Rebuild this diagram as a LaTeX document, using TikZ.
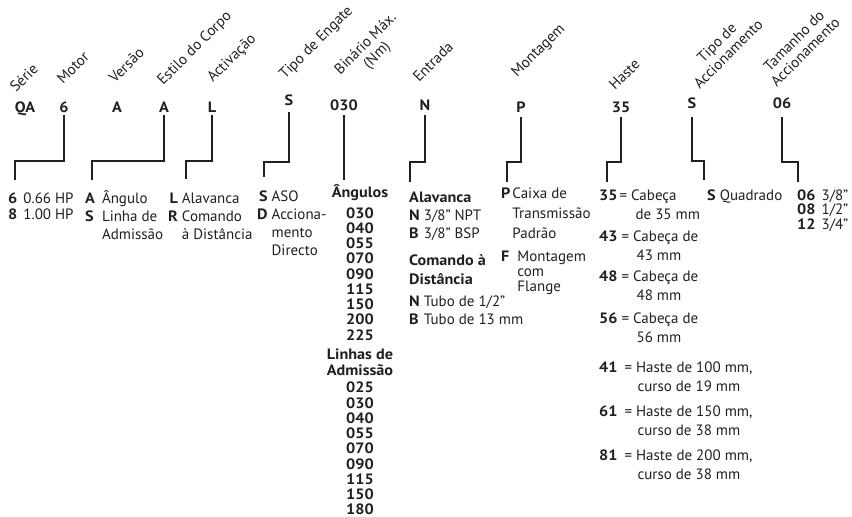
\documentclass[tikz,border=0pt]{standalone}
\usepackage{fontspec}
\setmainfont{PT Sans}[BoldFeatures={FakeStretch=1.08}]
\usetikzlibrary{positioning}
\definecolor{ink}{HTML}{231F20}
\newcommand\setsp[1]{\fontsize{15}{#1}\selectfont}
\tikzset{
  code/.style={font=\setsp{18}\bfseries, inner sep=1pt, anchor=base},
  head/.style={font=\setsp{16}, rotate=45, anchor=base west, inner sep=0pt},
  desc/.style={font=\setsp{18}, anchor=base west, inner sep=0pt},
  link/.style={line width=1.4pt, shorten <=2pt},
}
\begin{document}
\begin{tikzpicture}[x=1pt, y=-1pt, color=ink]
  \useasboundingbox (0,0) rectangle (852,517);
  % rotated headings
  \node[head] (hserie) at (16,93) {Série};
  \node[head] (hmotor) at (63,85) {Motor};
  \node[head] (hversao) at (115,84) {Versão};
  \node[head] (hcorpo) at (163,86) {Estilo do Corpo};
  \node[head] (hactiv) at (213,83) {Activação};
  \node[head] (hengate) at (285,80) {Tipo de Engate};
  \node[head, align=center, anchor=south west] (hbinario) at (354,89) {Binário Máx.\\(Nm)};
  \node[head] (hentrada) at (419,83) {Entrada};
  \node[head] (hmontagem) at (517,78) {Montagem};
  \node[head] (hhaste) at (615,91) {Haste};
  \node[head, align=center, anchor=south west] (htipo) at (700,90) {Tipo de\\Accionamento};
  \node[head, align=center, anchor=south west] (htamanho) at (777,88) {Tamanho do\\Accionamento};
  % code letters
  \node[code] (cqa) at (25,112) {QA};
  \node[code] (c6) at (64,112) {6};
  \node[code] (cversao) at (117,112) {A};
  \node[code] (ccorpo) at (164,112) {A};
  \node[code] (cactiv) at (212,112) {L};
  \node[code] (cengate) at (289,105) {S};
  \node[code] (cbinario) at (344,110) {030};
  \node[code] (centrada) at (425,110) {N};
  \node[code] (cmontagem) at (521,112) {P};
  \node[code] (chaste) at (621,112) {35};
  \node[code] (ctipo) at (692,108) {S};
  \node[code] (ctamanho) at (782,108) {06};
  % bracket corners
  \coordinate (k6) at (15,161);        \coordinate (e6) at (15,180);
  \coordinate (kcorpo) at (92,161);    \coordinate (ecorpo) at (92,180);
  \coordinate (kactiv) at (186,161);   \coordinate (eactiv) at (186,179);
  \coordinate (kengate) at (264,162);  \coordinate (eengate) at (264,177);
  \coordinate (ebinario) at (344,180);
  \coordinate (kentrada) at (410,162); \coordinate (eentrada) at (410,182);
  \coordinate (kmontagem) at (507,162); \coordinate (emontagem) at (507,182);
  \coordinate (khaste) at (607,162);   \coordinate (ehaste) at (607,182);
  \coordinate (ktipo) at (704,161);    \coordinate (etipo) at (704,180);
  \coordinate (ktamanho) at (798,162); \coordinate (etamanho) at (798,182);
  \draw[link] (c6.south) |- (k6) -- (e6);
  \draw[link] (ccorpo.south) |- (kcorpo) -- (ecorpo);
  \draw[link] (cactiv.south) |- (kactiv) -- (eactiv);
  \draw[link, shorten <=6pt] (cengate.south) |- (kengate) -- (eengate);
  \draw[link, shorten <=4pt] (cbinario.south) -- (ebinario);
  \draw[link, shorten <=4pt] (centrada.south) |- (kentrada) -- (eentrada);
  \draw[link, shorten <=4pt] (cmontagem.south) |- (kmontagem) -- (emontagem);
  \draw[link, shorten <=4pt] (chaste.south) |- (khaste) -- (ehaste);
  \draw[link, shorten <=8pt] (ctipo.south) |- (ktipo) -- (etipo);
  \draw[link, shorten <=8pt] (ctamanho.south) |- (ktamanho) -- (etamanho);
  % option lists
  \node[desc] (dmotor) at (8,203) {\setsp{16}\begin{tabular}[t]{@{}l@{\hspace{6pt}}l@{}}
    \textbf{6} & 0.66 HP\\ \textbf{8} & 1.00 HP\end{tabular}};
  \node[desc] (dcorpo) at (85,203) {\begin{tabular}[t]{@{}l@{\hspace{7pt}}l@{}}
    \textbf{A} & Ângulo\\ \textbf{S} & Linha de\\ & Admissão\end{tabular}};
  \node[desc] (dactiv) at (168,203) {\begin{tabular}[t]{@{}r@{\hspace{4pt}}l@{}}
    \textbf{L} & Alavanca\\ \textbf{R} & Comando\\ & à Distância\end{tabular}};
  \node[desc] (dengate) at (257,201) {\begin{tabular}[t]{@{}r@{\hspace{4pt}}l@{}}
    \textbf{S} & ASO\\ \textbf{D} & Acciona-\\ & mento\\ & Directo\end{tabular}};
  \node[desc, anchor=base] (dbinario) at (360,197) {\setsp{15.1}\bfseries\begin{tabular}[t]{@{}c@{}}
    Ângulos\\[6pt] 030\\ 040\\ 055\\ 070\\ 090\\ 115\\ 150\\ 200\\ 225\\[4.5pt]
    Linhas de\\[0.5pt] Admissão\\[2pt] 025\\ 030\\ 040\\ 055\\ 070\\ 090\\ 115\\ 150\\ 180\end{tabular}};
  \node[desc] (dentrada) at (409,202) {\begin{tabular}[t]{@{}l@{\hspace{4pt}}l@{}}
    \multicolumn{2}{@{}l@{}}{\textbf{Alavanca}}\\
    \textbf{N} & 3/8” NPT\\ \textbf{B} & 3/8” BSP\\[9pt]
    \multicolumn{2}{@{}l@{}}{\textbf{Comando à}}\\[1pt]
    \multicolumn{2}{@{}l@{}}{\textbf{Distância}}\\[4pt]
    \textbf{N} & Tubo de 1/2"\\ \textbf{B} & Tubo de 13 mm\end{tabular}};
  \node[desc] (dmontagem) at (501,198) {\setsp{14.5}\begin{tabular}[t]{@{}l@{\hspace{2pt}}l@{}}
    \textbf{P} & Caixa de\\[5.5pt] & Transmissão\\[4.5pt] & Padrão\\[8.5pt]
    \textbf{F} & \hspace{5pt}Montagem\\[0.5pt] & \hspace{5pt}com\\ & \hspace{5pt}Flange\end{tabular}};
  \node[desc] (dhaste) at (599,200) {\setsp{19}\begin{tabular}[t]{@{}l@{\hspace{2pt}}l@{}}
    \textbf{35} & = Cabeça\\ & \hspace{16pt}de 35 mm\\[3pt]
    \textbf{43} & \hspace{2pt}= Cabeça de\\ & \hspace{17pt}43 mm\\[2pt]
    \textbf{48} & \hspace{2pt}= Cabeça de\\ & \hspace{17pt}48 mm\\[4pt]
    \textbf{56} & \hspace{2pt}= Cabeça de\\ & \hspace{17pt}56 mm\\[11pt]
    \textbf{41} & \hspace{5pt}= Haste de 100 mm,\\ & \hspace{18pt}curso de 19 mm\\[6pt]
    \textbf{61} & \hspace{5pt}= Haste de 150 mm,\\ & \hspace{18pt}curso de 38 mm\\[6pt]
    \textbf{81} & \hspace{5pt}= Haste de 200 mm,\\ & \hspace{18pt}curso de 38 mm\end{tabular}};
  \node[desc] (dtipo) at (707,200) {\textbf{S}\hspace{4pt}Quadrado};
  \node[desc] (dtamanho) at (797,200) {\setsp{13.5}\begin{tabular}[t]{@{}r@{\hspace{6pt}}l@{}}
    \textbf{06} & 3/8”\\ \textbf{08} & 1/2”\\ \textbf{12} & 3/4”\end{tabular}};
\end{tikzpicture}
\end{document}
